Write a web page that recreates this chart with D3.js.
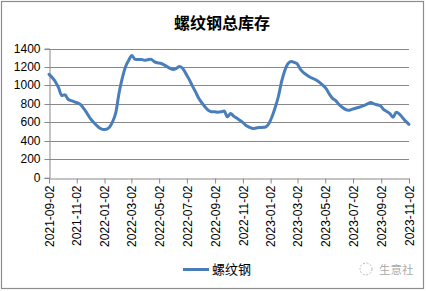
<!DOCTYPE html>
<html><head><meta charset="utf-8">
<script src="https://cdn.jsdelivr.net/npm/d3@7"></script>
<style>body{margin:0;background:#fff}svg{display:block}</style>
</head><body>
<svg id="c" width="426" height="291"></svg>
<script>
const title = "螺纹钢总库存";
const seriesName = "螺纹钢";
const startDate = "2021-09-02";
const values = [1120,1085,1040,975,890,900,850,835,822,810,790,745,695,640,600,565,535,522,525,548,
610,710,920,1080,1200,1270,1325,1283,1280,1280,1272,1278,1283,1258,1245,1240,1225,1205,1185,1172,
1185,1205,1183,1125,1065,995,930,860,810,765,730,714,714,710,714,722,660,695,665,645,
620,595,562,545,534,538,543,545,550,585,660,760,880,1040,1160,1235,1260,1250,1230,1170,
1135,1110,1088,1072,1055,1030,1000,965,905,860,835,795,765,740,730,740,750,760,770,785,
800,815,800,790,780,740,718,695,655,710,690,650,610,578];
const yTicks = [0,200,400,600,800,1000,1200,1400];
const xTickLabels = ["2021-09-02","2021-11-02","2022-01-02","2022-03-02","2022-05-02","2022-07-02","2022-09-02","2022-11-02","2023-01-02","2023-03-02","2023-05-02","2023-07-02","2023-09-02","2023-11-02"];

const parse = d3.utcParse("%Y-%m-%d");
const t0 = parse(startDate);
const data = values.map((v,i)=>({d:d3.utcDay.offset(t0,7*i),v}));
const svg = d3.select("#c");
const L=49,R=409,T=48.5,B=177.7;
svg.append("rect").attr("x",1.5).attr("y",1.5).attr("width",422).attr("height",287)
  .attr("fill","#fff").attr("stroke","#8c8c8c").attr("stroke-width",1.2);

const x = d3.scaleUtc().domain([parse(xTickLabels[0]),parse(xTickLabels[xTickLabels.length-1])]).range([L,R]);
const y = d3.scaleLinear().domain([0,1400]).range([B,T]);

svg.append("text").attr("x",222).attr("y",29).attr("text-anchor","middle")
  .attr("font-family","'Noto Sans CJK SC'").attr("font-weight","bold").attr("font-size",16).attr("fill","#000").text(title);

// gridlines
svg.append("g").selectAll("line").data(yTicks.filter(d=>d>0)).join("line")
  .attr("x1",L).attr("x2",R).attr("y1",d=>Math.round(y(d))+0.5).attr("y2",d=>Math.round(y(d))+0.5)
  .attr("stroke","#888").attr("stroke-width",1);

const yAxis = svg.append("g").attr("transform",`translate(${L+0.5},0)`)
  .call(d3.axisLeft(y).tickValues(yTicks).tickSize(5).tickPadding(4).tickFormat(d3.format("d")));
yAxis.selectAll("text").attr("font-family","'Liberation Sans',Arial").attr("font-size",12).attr("fill","#000");
yAxis.selectAll("line,path").attr("stroke","#888");
yAxis.selectAll(".tick").attr("transform",d=>`translate(0,${Math.round(y(d))+0.5})`);

const xAxis = svg.append("g").attr("transform",`translate(0,${Math.round(B)+0.5})`)
  .call(d3.axisBottom(x).tickValues(xTickLabels.map(parse)).tickSize(5).tickSizeOuter(0).tickFormat(d3.utcFormat("%Y-%m-%d")));
xAxis.selectAll("line,path").attr("stroke","#888");
xAxis.selectAll("text").attr("font-family","'Liberation Sans',Arial").attr("font-size",12).attr("fill","#000")
  .attr("transform","rotate(-90)").attr("text-anchor","end").attr("x",-7).attr("y",0).attr("dy","0.35em");

svg.append("path").datum(data).attr("fill","none").attr("stroke","#4a7ebb").attr("stroke-width",3)
  .attr("stroke-linejoin","round").attr("stroke-linecap","round")
  .attr("d",d3.line().x(d=>x(d.d)).y(d=>y(d.v)).curve(d3.curveMonotoneX));

// legend
svg.append("line").attr("x1",183).attr("x2",209).attr("y1",269.5).attr("y2",269.5).attr("stroke","#4a7ebb").attr("stroke-width",3);
svg.append("text").attr("x",212).attr("y",274).attr("font-family","'Noto Sans CJK SC'").attr("font-size",13).attr("fill","#000").text(seriesName);

// watermark
const wm = svg.append("g").attr("fill","none").attr("stroke","#bbb");
wm.append("circle").attr("cx",366).attr("cy",269).attr("r",6).attr("stroke-dasharray","2,1.5");
svg.append("text").attr("x",379).attr("y",273.5).attr("font-family","'Noto Sans CJK SC'").attr("font-size",11.5).attr("fill","#aaa").text("生意社");
</script>
</body></html>
